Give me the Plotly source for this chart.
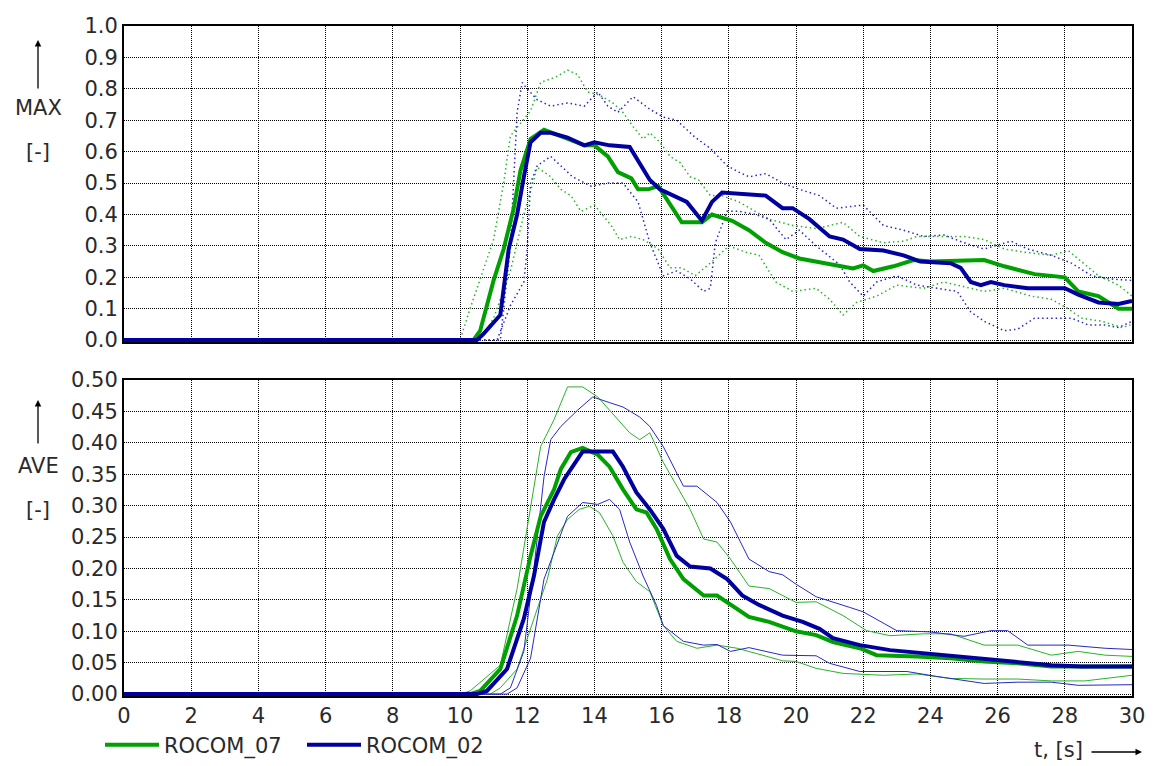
import plotly.graph_objects as go

# ---------------- data ----------------
# Top panel: MAX [-]
max_g_t = [0, 10.4, 10.6, 11.0, 11.3, 11.6, 11.8, 12.1, 12.5, 13.0, 13.7, 14.0, 14.4, 14.7, 15.1, 15.3, 15.6, 15.9,
           16.25, 16.6, 17.2, 17.5, 18.1, 18.6, 19.1, 19.6, 20.1, 20.6, 21.2, 21.7, 22.0, 22.3, 22.9, 23.5, 24.0,
           25.0, 25.6, 26.2, 27.1, 28.0, 28.4, 29.0, 29.6, 30.0]
max_g_v = [0, 0, 0.03, 0.19, 0.29, 0.42, 0.54, 0.64, 0.67, 0.65, 0.62, 0.62, 0.585, 0.535, 0.515, 0.48, 0.48, 0.49,
           0.43, 0.375, 0.375, 0.40, 0.38, 0.35, 0.31, 0.28, 0.26, 0.25, 0.235, 0.228, 0.238, 0.22, 0.235, 0.255, 0.25,
           0.255, 0.255, 0.235, 0.21, 0.20, 0.155, 0.14, 0.10, 0.10]

max_b_t = [0, 10.5, 10.7, 11.2, 11.45, 11.7, 11.9, 12.1, 12.4, 12.7, 13.2, 13.7, 14.0, 14.45, 15.05, 15.35, 15.65,
           15.95, 16.25, 16.75, 17.2, 17.5, 17.8, 18.4, 19.1, 19.6, 19.9, 20.4, 21.0, 21.4, 21.9, 22.6, 23.2, 23.7,
           24.6, 24.9, 25.2, 25.5, 25.8, 26.2, 26.9, 28.0, 28.4, 29.0, 29.6, 30.0]
max_b_v = [0, 0, 0.02, 0.08, 0.29, 0.40, 0.52, 0.63, 0.66, 0.66, 0.645, 0.62, 0.63, 0.62, 0.615, 0.565, 0.51,
           0.48, 0.465, 0.44, 0.38, 0.44, 0.47, 0.465, 0.46, 0.42, 0.42, 0.385, 0.33, 0.32, 0.29, 0.285, 0.27, 0.25,
           0.245, 0.23, 0.185, 0.175, 0.185, 0.175, 0.165, 0.165, 0.145, 0.12, 0.115, 0.125]

max_g_hi_t = [0, 10.0, 10.3, 11.0, 11.3, 11.5, 11.8, 12.1, 12.4, 12.9, 13.2, 13.5, 13.8, 14.15, 14.55, 14.85, 15.15,
              15.45, 15.65, 15.95, 16.25, 16.55, 16.85, 17.1, 17.45, 17.8, 18.3, 19.2, 19.9, 20.6, 21.4, 21.9, 22.6,
              23.2, 23.6, 24.2, 25.0, 25.6, 26.2, 26.8, 27.6, 28.1, 28.5, 29.0, 29.6, 30.0]
max_g_hi_v = [0, 0, 0.10, 0.32, 0.50, 0.65, 0.69, 0.73, 0.82, 0.84, 0.86, 0.845, 0.79, 0.78, 0.755, 0.725, 0.68,
              0.64, 0.66, 0.63, 0.585, 0.565, 0.52, 0.51, 0.46, 0.46, 0.44, 0.385, 0.365, 0.355, 0.375, 0.33, 0.31,
              0.315, 0.33, 0.33, 0.33, 0.32, 0.29, 0.28, 0.27, 0.285, 0.25, 0.205, 0.175, 0.14]

max_g_lo_t = [0, 10.6, 11.0, 11.5, 11.9, 12.3, 12.7, 13.0, 13.3, 13.6, 14.0, 14.5, 14.75, 15.1, 15.45, 15.9, 16.25,
              16.6, 17.0, 17.5, 18.0, 18.5, 18.9, 19.4, 19.9, 20.6, 21.0, 21.4, 21.8, 22.4, 23.0, 23.8, 24.4, 25.0,
              25.6, 26.2, 27.0, 27.6, 28.1, 28.5, 29.1, 29.7, 30.0]
max_g_lo_v = [0, 0, 0.07, 0.22, 0.40, 0.55, 0.52, 0.48, 0.46, 0.41, 0.43, 0.365, 0.32, 0.33, 0.32, 0.29, 0.23,
              0.23, 0.205, 0.25, 0.30, 0.28, 0.27, 0.185, 0.155, 0.165, 0.13, 0.08, 0.12, 0.14, 0.175, 0.165, 0.185,
              0.17, 0.155, 0.165, 0.14, 0.13, 0.10, 0.07, 0.06, 0.04, 0.05]

max_b_hi_t = [0, 11.2, 11.5, 11.7, 11.85, 12.0, 12.3, 12.7, 13.2, 13.7, 14.1, 14.4, 14.7, 15.15, 15.65, 16.05, 16.45,
              16.95, 17.45, 17.95, 18.3, 18.6, 19.1, 19.6, 20.1, 20.7, 21.2, 22.0, 22.6, 23.2, 23.8, 24.4, 25.0, 25.6,
              26.4, 26.9, 27.6, 28.2, 28.8, 29.3, 30.0]
max_b_hi_v = [0, 0, 0.30, 0.725, 0.82, 0.80, 0.765, 0.745, 0.755, 0.745, 0.79, 0.745, 0.725, 0.775, 0.735, 0.71, 0.70,
              0.65, 0.61, 0.555, 0.535, 0.52, 0.53, 0.50, 0.48, 0.46, 0.42, 0.43, 0.365, 0.35, 0.33, 0.335, 0.31, 0.29,
              0.315, 0.29, 0.27, 0.245, 0.205, 0.195, 0.19]

max_b_lo_t = [0, 11.1, 11.5, 11.9, 12.0, 12.1, 12.3, 12.7, 12.9, 13.35, 13.9, 14.4, 14.85, 15.3, 15.65, 16.05, 16.45,
              16.85, 17.25, 17.45, 17.6, 17.95, 18.3, 18.8, 19.2, 19.7, 20.1, 20.6, 21.3, 21.6, 22.0, 22.4, 23.0, 23.6,
              24.2, 24.8, 25.2, 25.6, 26.2, 26.6, 27.1, 27.6, 28.2, 28.7, 29.2, 29.6, 30.0]
max_b_lo_v = [0, 0, 0.11, 0.185, 0.29, 0.50, 0.555, 0.585, 0.565, 0.52, 0.49, 0.50, 0.50, 0.44, 0.31, 0.205, 0.22,
              0.195, 0.155, 0.165, 0.31, 0.41, 0.41, 0.40, 0.385, 0.32, 0.35, 0.30, 0.24, 0.185, 0.14, 0.185, 0.205,
              0.175, 0.165, 0.155, 0.09, 0.06, 0.03, 0.035, 0.07, 0.07, 0.07, 0.048, 0.048, 0.04, 0.06]

# Bottom panel: AVE [-]
ave_g_t = [0, 10.3, 10.6, 11.2, 11.7, 12.1, 12.4, 12.8, 13.0, 13.3, 13.65, 14.1, 14.45, 14.85, 15.25, 15.55, 15.85,
           16.25, 16.65, 17.25, 17.65, 18.25, 18.6, 19.2, 20.0, 20.6, 21.1, 21.9, 22.4, 23.6, 24.6, 25.6, 26.6,
           27.6, 28.6, 30.0]
ave_g_v = [0, 0, 0.005, 0.04, 0.125, 0.22, 0.283, 0.326, 0.358, 0.385, 0.392, 0.381, 0.362, 0.326, 0.294, 0.289, 0.263,
           0.215, 0.183, 0.157, 0.157, 0.136, 0.123, 0.115, 0.10, 0.094, 0.083, 0.073, 0.062, 0.06, 0.057, 0.052, 0.049,
           0.044, 0.044, 0.044]

ave_b_t = [0, 10.5, 10.8, 11.4, 11.9, 12.2, 12.5, 12.8, 13.1, 13.5, 13.65, 14.55, 14.85, 15.25, 15.65, 16.05, 16.45,
           16.85, 17.45, 17.95, 18.4, 18.9, 19.6, 20.2, 20.7, 21.1, 21.9, 22.8, 23.8, 24.6, 25.6, 26.6, 27.6, 28.5, 30.0]
ave_b_v = [0, 0, 0.005, 0.04, 0.12, 0.188, 0.274, 0.31, 0.342, 0.373, 0.386, 0.386, 0.362, 0.321, 0.294, 0.263, 0.22,
           0.203, 0.20, 0.183, 0.157, 0.142, 0.125, 0.115, 0.104, 0.089, 0.078, 0.07, 0.065, 0.062, 0.057, 0.052, 0.046,
           0.044, 0.044]

ave_g_hi_t = [0, 10.0, 10.3, 11.2, 11.7, 12.1, 12.4, 12.8, 13.2, 13.65, 14.1, 14.45, 15.05, 15.35, 15.65, 16.05, 16.45,
              16.85, 17.25, 17.65, 18.05, 18.6, 19.2, 20.0, 20.6, 21.4, 22.1, 22.8, 23.8, 24.6, 25.6, 26.6, 27.6, 28.4,
              29.2, 30.0]
ave_g_hi_v = [0, 0, 0.005, 0.046, 0.168, 0.294, 0.394, 0.437, 0.489, 0.489, 0.473, 0.452, 0.416, 0.405, 0.416, 0.369,
              0.331, 0.294, 0.247, 0.242, 0.215, 0.172, 0.168, 0.146, 0.147, 0.125, 0.101, 0.093, 0.096, 0.096, 0.078,
              0.078, 0.062, 0.068, 0.062, 0.06]

ave_b_hi_t = [0, 11.2, 11.5, 11.9, 12.2, 12.5, 12.7, 13.0, 13.5, 13.95, 14.45, 14.85, 15.35, 15.65, 16.05, 16.65, 17.05,
              17.65, 18.05, 18.6, 19.2, 19.6, 20.0, 20.6, 21.6, 22.0, 23.0, 24.0, 25.0, 25.8, 26.3, 26.9, 28.1, 29.2,
              30.0]
ave_b_hi_v = [0, 0, 0.01, 0.068, 0.20, 0.346, 0.405, 0.426, 0.452, 0.473, 0.464, 0.457, 0.441, 0.426, 0.394, 0.331,
              0.331, 0.305, 0.274, 0.215, 0.195, 0.19, 0.175, 0.155, 0.138, 0.131, 0.101, 0.099, 0.092, 0.101, 0.101,
              0.078, 0.078, 0.073, 0.071]

ave_g_lo_t = [0, 10.9, 11.2, 11.7, 12.2, 12.6, 12.9, 13.2, 13.55, 13.85, 14.15, 14.55, 14.85, 15.25, 15.65, 16.05,
              16.45, 17.05, 17.65, 18.25, 19.0, 19.6, 20.0, 20.6, 21.4, 22.6, 23.6, 24.6, 25.6, 26.6, 27.6, 28.6, 30.0]
ave_g_lo_v = [0, 0, 0.01, 0.04, 0.12, 0.183, 0.252, 0.278, 0.294, 0.299, 0.289, 0.252, 0.21, 0.179, 0.163, 0.109,
              0.084, 0.073, 0.078, 0.073, 0.062, 0.053, 0.052, 0.041, 0.033, 0.030, 0.032, 0.025, 0.024, 0.024, 0.021,
              0.021, 0.030]

ave_b_lo_t = [0, 11.4, 11.7, 12.1, 12.5, 12.8, 13.2, 13.65, 14.1, 14.45, 14.75, 15.05, 15.45, 15.85, 16.05, 16.65,
              17.25, 17.65, 18.05, 18.6, 19.6, 20.6, 21.0, 21.9, 23.3, 24.2, 25.6, 26.6, 27.6, 28.4, 30.0]
ave_b_lo_v = [0, 0, 0.01, 0.057, 0.183, 0.226, 0.283, 0.305, 0.302, 0.31, 0.294, 0.242, 0.188, 0.141, 0.109, 0.084,
              0.078, 0.079, 0.068, 0.074, 0.062, 0.061, 0.049, 0.036, 0.036, 0.028, 0.017, 0.019, 0.019, 0.014, 0.015]

series_names = ["ROCOM_07", "ROCOM_02"]
x_ticks = list(range(0, 31, 2))
top_ticks = [round(0.1 * i, 1) for i in range(11)]
bot_ticks = [round(0.05 * i, 2) for i in range(11)]

# ---------------- styling ----------------
GREEN = "rgb(0,160,0)"
BLUE = "rgb(0,0,160)"
GREEN_THIN = "rgb(40,180,40)"
BLUE_THIN = "rgb(40,40,200)"
FONT = "DejaVu Sans, Verdana, sans-serif"
FS = 21
TXT = "#2a2a2a"
W, H = 1157, 766

fig = go.Figure()

def thin(t, v, color, axes, dash, width):
    fig.add_trace(go.Scatter(x=t, y=v, mode="lines", line=dict(color=color, width=width, dash=dash),
                             showlegend=False, hoverinfo="skip", xaxis=axes[0], yaxis=axes[1]))

# top panel thin bounds (dotted)
thin(max_g_hi_t, max_g_hi_v, GREEN_THIN, ("x", "y"), "1.5px,3px", 1.5)
thin(max_g_lo_t, max_g_lo_v, GREEN_THIN, ("x", "y"), "1.5px,3px", 1.5)
thin(max_b_hi_t, max_b_hi_v, BLUE_THIN, ("x", "y"), "1.5px,3px", 1.5)
thin(max_b_lo_t, max_b_lo_v, BLUE_THIN, ("x", "y"), "1.5px,3px", 1.5)
# bottom panel thin bounds
thin(ave_g_hi_t, ave_g_hi_v, GREEN_THIN, ("x2", "y2"), "solid", 1)
thin(ave_g_lo_t, ave_g_lo_v, GREEN_THIN, ("x2", "y2"), "solid", 1)
thin(ave_b_hi_t, ave_b_hi_v, BLUE_THIN, ("x2", "y2"), "solid", 1)
thin(ave_b_lo_t, ave_b_lo_v, BLUE_THIN, ("x2", "y2"), "solid", 1)

# thick mean lines
fig.add_trace(go.Scatter(x=max_g_t, y=max_g_v, mode="lines", name=series_names[0], legendgroup="g",
                         line=dict(color=GREEN, width=4), xaxis="x", yaxis="y"))
fig.add_trace(go.Scatter(x=ave_g_t, y=ave_g_v, mode="lines", name=series_names[0], legendgroup="g", showlegend=False,
                         line=dict(color=GREEN, width=4), xaxis="x2", yaxis="y2"))
fig.add_trace(go.Scatter(x=max_b_t, y=max_b_v, mode="lines", name=series_names[1], legendgroup="b",
                         line=dict(color=BLUE, width=4), xaxis="x", yaxis="y"))
fig.add_trace(go.Scatter(x=ave_b_t, y=ave_b_v, mode="lines", name=series_names[1], legendgroup="b", showlegend=False,
                         line=dict(color=BLUE, width=4), xaxis="x2", yaxis="y2"))

xdom = [124 / W, 1132 / W]
top_dom = [1 - 342 / H, 1 - 26 / H]
bot_dom = [1 - 696 / H, 1 - 380 / H]

common_axis = dict(showline=True, linecolor="black", linewidth=2, mirror=True,
                   showgrid=True, gridcolor="black", gridwidth=1, griddash="1px,1px",
                   zeroline=False, ticks="", automargin=False,
                   tickfont=dict(family=FONT, size=FS, color=TXT))

fig.update_layout(
    width=W, height=H,
    margin=dict(l=0, r=0, t=0, b=0, pad=0, autoexpand=False),
    paper_bgcolor="white", plot_bgcolor="white",
    font=dict(family=FONT, size=FS, color=TXT),
    xaxis=dict(domain=xdom, anchor="y", range=[0, 30], tickvals=x_ticks, showticklabels=False, **common_axis),
    yaxis=dict(domain=top_dom, anchor="x", range=[-0.006, 1.0], tickvals=top_ticks,
               ticktext=[f"{v:.1f}" for v in top_ticks], **common_axis),
    xaxis2=dict(domain=xdom, anchor="y2", range=[0, 30], tickvals=x_ticks,
                ticktext=[str(v) for v in x_ticks], **common_axis),
    yaxis2=dict(domain=bot_dom, anchor="x2", range=[-0.003, 0.5], tickvals=bot_ticks,
                ticktext=[f"{v:.2f}" for v in bot_ticks], **common_axis),
    showlegend=True,
    legend=dict(orientation="h", x=100 / W, y=1 - 745 / H, xanchor="left", yanchor="middle",
                font=dict(family=FONT, size=FS, color=TXT), bgcolor="rgba(0,0,0,0)",
                itemwidth=54, entrywidth=133, entrywidthmode="pixels", tracegroupgap=0),
)

ann = []
# left labels
for (head, tail, lab_y, unit_y, lab) in [(40, 90, 108, 152, "MAX"), (400, 445, 466, 510, "AVE")]:
    ann.append(dict(xref="paper", yref="paper", x=38 / W, y=1 - head / H, ax=0, ay=tail - head,
                    axref="pixel", ayref="pixel", text="", showarrow=True, arrowhead=2, arrowsize=1,
                    arrowwidth=1.3, arrowcolor="black"))
    ann.append(dict(xref="paper", yref="paper", x=38 / W, y=1 - lab_y / H, text=lab, showarrow=False,
                    font=dict(family=FONT, size=FS, color=TXT), xanchor="center", yanchor="middle"))
    ann.append(dict(xref="paper", yref="paper", x=38 / W, y=1 - unit_y / H, text="[-]", showarrow=False,
                    font=dict(family=FONT, size=FS, color=TXT), xanchor="center", yanchor="middle"))
# x axis label with arrow
ann.append(dict(xref="paper", yref="paper", x=1085 / W, y=1 - 750 / H, text="t, [s]", showarrow=False,
                font=dict(family=FONT, size=FS, color=TXT), xanchor="right", yanchor="middle"))
ann.append(dict(xref="paper", yref="paper", x=1142 / W, y=1 - 752 / H, ax=-52, ay=0,
                axref="pixel", ayref="pixel", text="", showarrow=True, arrowhead=2, arrowsize=1,
                arrowwidth=1.3, arrowcolor="black"))
fig.update_layout(annotations=ann)

fig.write_html("out.html", config={"displayModeBar": False},
               post_script="document.body.style.margin='0px';document.body.style.overflow='hidden';")
